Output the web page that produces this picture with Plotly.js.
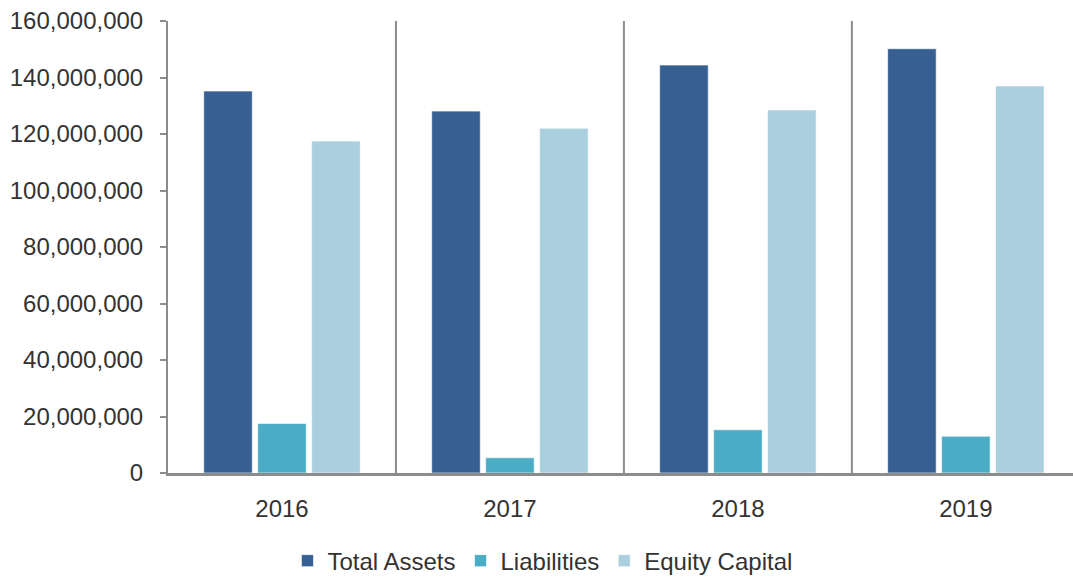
<!DOCTYPE html>
<html>
<head>
<meta charset="utf-8">
<script src="https://cdn.plot.ly/plotly-3.0.1.min.js"></script>
<style>html,body{margin:0;padding:0;background:#fff;}#chart{width:1073px;height:579px;}</style>
</head>
<body>
<div id="chart"></div>
<script>
var years = ["2016", "2017", "2018", "2019"];
var totalAssets = [135200000, 128100000, 144400000, 150200000];
var liabilities = [17500000, 5400000, 15300000, 13000000];
var equityCapital = [117500000, 122000000, 128500000, 137000000];
var seriesNames = ["Total Assets", "Liabilities", "Equity Capital"];
var seriesColors = ["#366092", "#4BACC6", "#AACFDE"];

var font = {family: "Liberation Sans, Arial, sans-serif", size: 24, color: "#333333"};
var vals = [totalAssets, liabilities, equityCapital];
var traces = vals.map(function (v, i) {
  return {
    type: "bar",
    x: years,
    y: v,
    name: seriesNames[i],
    marker: {color: seriesColors[i], line: {color: "rgba(255,255,255,0.6)", width: 1}},
    hoverinfo: "x+y+name"
  };
});

var shapes = [];
for (var k = 0; k < years.length - 1; k++) {
  shapes.push({type: "line", xref: "x", yref: "y", x0: k + 0.5, x1: k + 0.5, y0: 0, y1: 160000000,
    line: {color: "#8c8c8c", width: 2}});
}

var layout = {
  width: 1073, height: 579,
  margin: {l: 168, r: 0, t: 21, b: 106, autoexpand: false},
  paper_bgcolor: "#fff", plot_bgcolor: "#fff",
  font: font,
  barmode: "group",
  bargap: 0.29,
  bargroupgap: 0.1,
  showlegend: true,
  legend: {orientation: "h", x: 0.132, xanchor: "left", y: -0.145, yanchor: "top",
    font: font, traceorder: "normal", itemwidth: 30},
  xaxis: {type: "category", range: [-0.5, 3.47], showline: true, linecolor: "#8c8c8c", linewidth: 3,
    ticks: "", showgrid: false, zeroline: false, tickfont: font, ticklabelstandoff: 12},
  yaxis: {range: [0, 160000000], dtick: 20000000, tickformat: ",d", showline: true,
    linecolor: "#8c8c8c", linewidth: 2, ticks: "outside", ticklen: 6, tickcolor: "#8c8c8c", tickwidth: 2,
    showgrid: false, zeroline: false, tickfont: font, ticklabelstandoff: 12},
  shapes: shapes
};

Plotly.newPlot("chart", traces, layout, {displayModeBar: false, staticPlot: true});
</script>
</body>
</html>
